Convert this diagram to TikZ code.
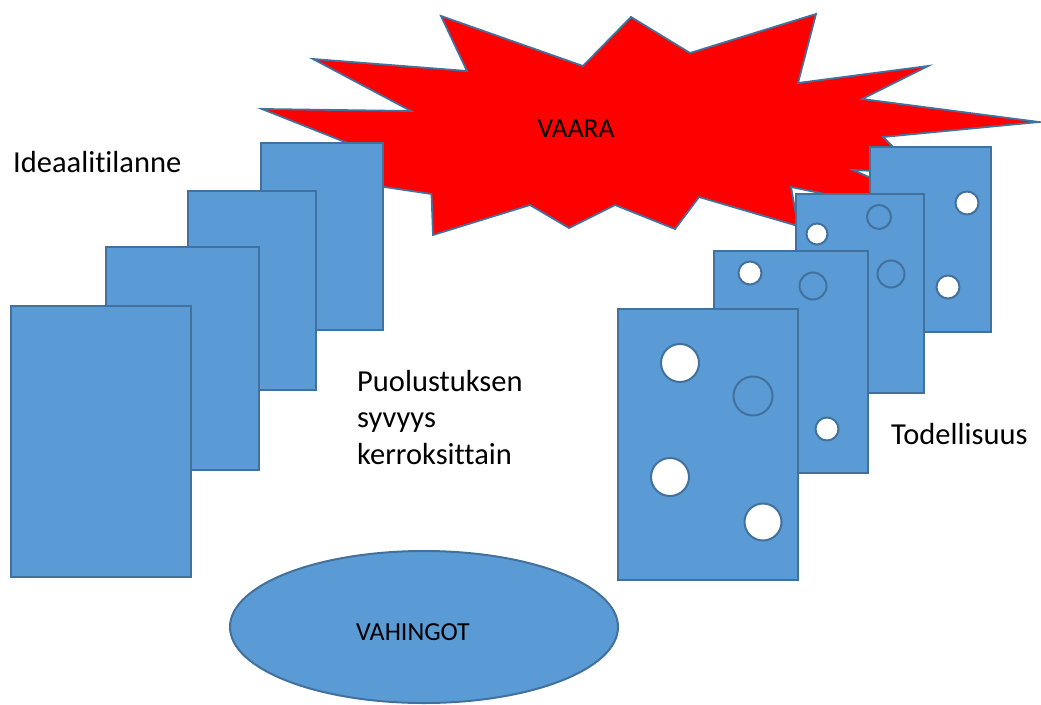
\documentclass[tikz,border=0pt]{standalone}
\usepackage{fontspec}
\setmainfont{Carlito}[Ligatures=CommonOff]
\usetikzlibrary{shapes.geometric}
\definecolor{cardblue}{HTML}{5B9BD5}
\definecolor{edgeblue}{HTML}{41719C}
\definecolor{dangerred}{HTML}{FF0000}
\tikzset{
  card/.style={fill=cardblue, draw=edgeblue, line width=2pt},
  hole/.style={fill=white, draw=edgeblue, line width=2pt},
  dent/.style={fill=cardblue, draw=edgeblue, line width=2pt},
  burst/.style={fill=dangerred, draw=edgeblue, line width=1.8pt, line join=miter},
  label/.style={inner sep=0pt, font=\fontsize{30.5}{36.5}\selectfont, text=black},
  inlabel/.style={inner sep=0pt, text=black}
}
\begin{document}
\begin{tikzpicture}[x=1pt, y=-1pt]
\useasboundingbox (0,0) rectangle (1041,704);

% explosion
\draw[burst] (441,16) -- (583,66) -- (631,17) -- (690,53) -- (816,14) -- (798,83)
  -- (928,66) -- (862,99) -- (1039,122) -- (883,137) -- (919,173) -- (853,170)
  -- (980,226) -- (791,187) -- (798,226) -- (699,197) -- (675,229) -- (615,205)
  -- (569,228) -- (530,205) -- (433,235) -- (431.5,194) -- (378,186) -- (365,150)
  -- (262,109) -- (411,111) -- (313,59) -- (467,71) -- cycle;
\node[inlabel, font=\fontsize{27.5}{33}\selectfont] (vaara) at (576,129) {VAARA};

% ideal layers
\draw[card] (261,143) rectangle (383,330);
\draw[card] (188,191) rectangle (316,390);
\draw[card] (106,247) rectangle (259,470);
\draw[card] (11,306) rectangle (191,577);

% real layers with holes
\draw[card] (870,147) rectangle (991,332);
\draw[hole] (967,203) circle[radius=11.5pt];
\draw[hole] (948,287) circle[radius=11.5pt];

\draw[card] (796,194) rectangle (924,393);
\draw[hole] (817,234) circle[radius=10.5pt];
\draw[dent] (879,217) circle[radius=12pt];
\draw[dent] (891,274) circle[radius=13.5pt];

\draw[card] (714,251) rectangle (868,473);
\draw[hole] (750,273) circle[radius=11.5pt];
\draw[dent] (813,286) circle[radius=13.5pt];
\draw[hole] (827,429) circle[radius=11.5pt];

\draw[card] (618,309) rectangle (798,580);
\draw[hole] (680,363) circle[radius=19pt];
\draw[dent] (753,396) circle[radius=19.5pt];
\draw[hole] (670,477) circle[radius=19pt];
\draw[hole] (763,522) circle[radius=18.5pt];

% damages
\node[ellipse, card, minimum width=388pt, minimum height=152pt, inner sep=0pt] (vahingot) at (424,627) {};
\node[inlabel, font=\fontsize{26}{31}\selectfont] (vahingotlabel) at (413,632) {VAHINGOT};

% labels
\node[label, anchor=base west] (ideaali) at (13,172) {Ideaalitilanne};
\node[label, anchor=north west, align=left] (syvyys) at (357,370)
  {Puolustuksen\\syvyys\\kerroksittain};
\node[label, anchor=base west] (todellisuus) at (891,444) {Todellisuus};
\end{tikzpicture}
\end{document}
